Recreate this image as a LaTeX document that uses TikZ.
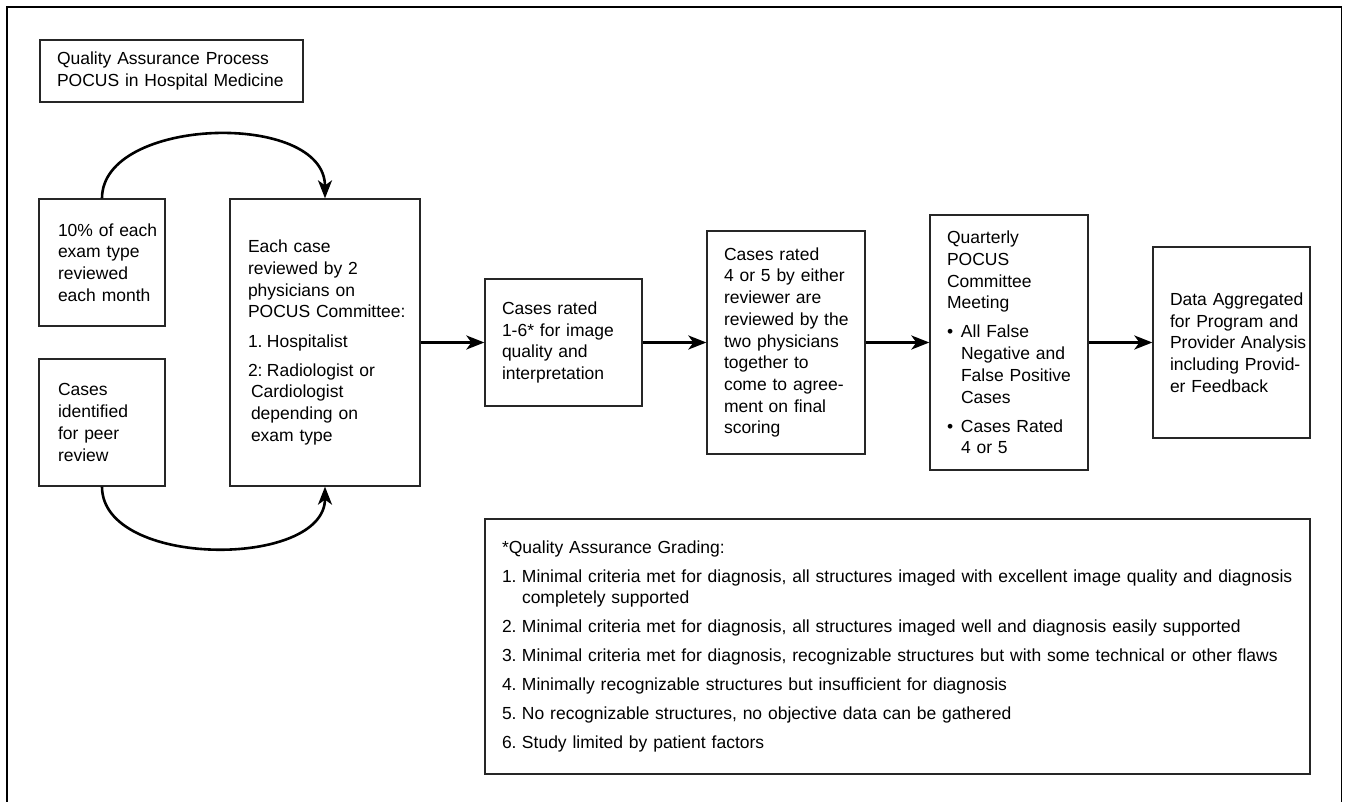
\documentclass[tikz,border=0pt]{standalone}
\usepackage{fontspec}
\setmainfont{Liberation Sans}
\usetikzlibrary{arrows.meta}
\newcommand\dfont{\fontsize{17.5pt}{21.7pt}\selectfont}
\newcommand\lpad{\leftskip=17pt\relax}
\tikzset{
  bx/.style={draw=black!85, line width=1.3pt, inner xsep=0pt, inner ysep=0pt,
    align=left, font=\dfont},
  arr/.style={line width=2.6pt, -{Stealth[length=18pt,width=14pt,inset=5pt]}},
  frame/.style={line width=1.5pt, draw=black}
}
\begin{document}
\begin{tikzpicture}[x=1pt,y=-1pt]
\useasboundingbox (0,0) rectangle (1346,802);
\draw[frame] (7,802) -- (7,7) -- (1341.5,7) -- (1341.5,802);

\node[bx, text width=263pt, minimum height=62pt] (title) at (171.5,71)
  {\lpad Quality Assurance Process\\POCUS in Hospital Medicine\par};

\node[bx, text width=126pt, minimum height=127pt] (A) at (102,262.5)
  {\leftskip=19pt\relax 10\% of each\\exam type\\reviewed\\each month\par};

\node[bx, text width=126pt, minimum height=127pt] (B) at (102,422.5)
  {\leftskip=19pt\relax Cases\\identified\\for peer\\review\par};

\node[bx, text width=190pt, minimum height=287pt] (C) at (325,342.5)
  {\leftskip=18pt\relax Each case\\reviewed by 2\\physicians on\\POCUS Committee:\\[7.5pt]
   \makebox[19pt][l]{1.}Hospitalist\\[7.5pt]
   \makebox[19pt][l]{2:}Radiologist or\\\hspace*{3pt}Cardiologist\\\hspace*{3pt}depending on\\\hspace*{3pt}exam type\par};

\node[bx, text width=157pt, minimum height=127pt] (D) at (563.5,342.5)
  {\lpad Cases rated\\1-6* for image\\quality and\\interpretation\par};

\node[bx, text width=158pt, minimum height=223pt] (E) at (786,342.5)
  {\lpad Cases rated\\4 or 5 by either\\reviewer are\\reviewed by the\\two physicians\\together to\\come to agree-\\ment on final\\scoring\par};

\node[bx, text width=158pt, minimum height=255pt] (F) at (1009,342.5)
  {\lpad Quarterly\\POCUS\\Committee\\Meeting\\[7.5pt]
   \makebox[14pt][l]{\textbullet}All False\\\hspace*{14pt}Negative and\\\hspace*{14pt}False Positive\\\hspace*{14pt}Cases\\[7.5pt]
   \makebox[14pt][l]{\textbullet}Cases Rated\\\hspace*{14pt}4 or 5\par};

\node[bx, text width=157pt, minimum height=191pt] (G) at (1231.5,342.5)
  {\lpad Data Aggregated\\for Program and\\Provider Analysis\\including Provid-\\er Feedback\par};

\node[bx, text width=825pt, minimum height=255pt, font=\fontsize{17.5pt}{20.5pt}\selectfont] (H) at (897.5,646.5)
  {\lpad *Quality Assurance Grading:\\[8.5pt]
   \makebox[20pt][l]{1.}Minimal criteria met for diagnosis, all structures imaged with excellent image quality and diagnosis\\\hspace*{20pt}completely supported\\[8.5pt]
   \makebox[20pt][l]{2.}Minimal criteria met for diagnosis, all structures imaged well and diagnosis easily supported\\[8.5pt]
   \makebox[20pt][l]{3.}Minimal criteria met for diagnosis, recognizable structures but with some technical or other flaws\\[8.5pt]
   \makebox[20pt][l]{4.}Minimally recognizable structures but insufficient for diagnosis\\[8.5pt]
   \makebox[20pt][l]{5.}No recognizable structures, no objective data can be gathered\\[8.5pt]
   \makebox[20pt][l]{6.}Study limited by patient factors\par};

\draw[arr] (C.east) -- (D.west);
\draw[arr] (D.east) -- (E.west);
\draw[arr] (E.east) -- (F.west);
\draw[arr] (F.east) -- (G.west);
\draw[arr] (A.north) .. controls +(0,-82) and +(0,-88) .. (C.north);
\draw[arr] (B.south) .. controls +(0,82) and +(0,82) .. (C.south);
\end{tikzpicture}
\end{document}
